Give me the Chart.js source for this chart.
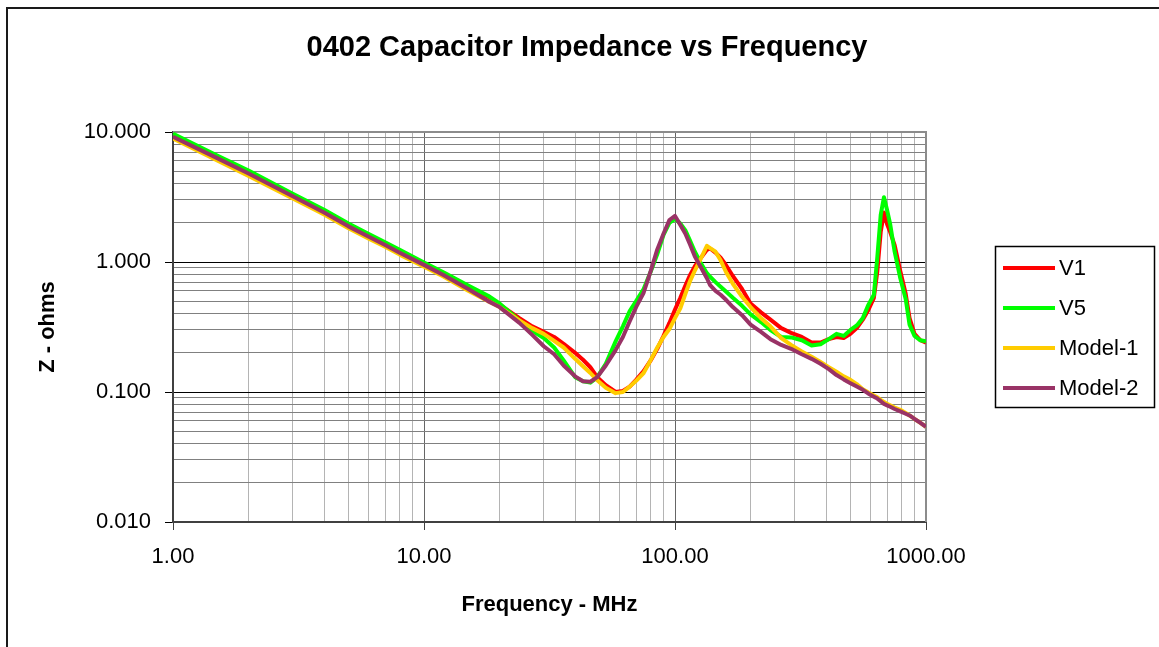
<!DOCTYPE html>
<html>
<head>
<meta charset="utf-8">
<title>0402 Capacitor Impedance vs Frequency</title>
<script src="https://cdn.jsdelivr.net/npm/chart.js@4.4.1/dist/chart.umd.min.js"></script>
<style>
  html, body { margin: 0; padding: 0; background: #fff; }
  #wrap { position: relative; width: 1159px; height: 647px; }
</style>
</head>
<body>
<div id="wrap"><canvas id="chart"></canvas></div>
<script>
// frequency points (MHz) shared by all four traces
const freqMHz = [
  1, 1.5, 2, 3, 4, 5, 6, 7, 8, 10,
  12, 15, 18, 20, 24, 27, 30, 33, 36, 40,
  43, 46, 49, 53, 58, 62, 66, 70, 75, 80,
  85, 90, 95, 100, 105, 110, 115, 120, 126, 134,
  138, 145, 152, 160, 170, 185, 200, 220, 240, 265,
  290, 320, 350, 380, 410, 440, 470, 500, 530, 560,
  590, 620, 640, 660, 680, 700, 720, 750, 790, 830,
  860, 900, 950, 1000
];

// |Z| in ohms
const v1Ohms = [
  9.2, 6.3, 4.8, 3.2, 2.4, 1.9, 1.58, 1.36, 1.19, 0.96,
  0.8, 0.63, 0.53, 0.47, 0.37, 0.32, 0.29, 0.265, 0.235, 0.2,
  0.177, 0.155, 0.13, 0.113, 0.1, 0.102, 0.11, 0.124, 0.145, 0.175,
  0.215, 0.27, 0.34, 0.43, 0.53, 0.66, 0.8, 0.93, 1.06, 1.24,
  1.27, 1.18, 1.08, 0.94, 0.78, 0.62, 0.48, 0.41, 0.36, 0.31,
  0.285, 0.265, 0.24, 0.24, 0.255, 0.265, 0.26, 0.28, 0.31, 0.36,
  0.43, 0.53, 0.85, 1.7, 2.4, 1.95, 1.7, 1.35, 0.85, 0.57,
  0.37, 0.28, 0.25, 0.24
];
const v5Ohms = [
  9.7, 6.6, 5.05, 3.35, 2.52, 1.98, 1.65, 1.42, 1.24, 0.99,
  0.83, 0.66, 0.55, 0.48, 0.355, 0.295, 0.26, 0.22, 0.175, 0.13,
  0.121, 0.118, 0.13, 0.165, 0.245, 0.32, 0.42, 0.5, 0.62, 0.84,
  1.15, 1.62, 2.0, 2.15, 1.98, 1.75, 1.45, 1.2, 1.0, 0.82,
  0.77, 0.7, 0.645, 0.59, 0.53, 0.46, 0.395, 0.345, 0.3, 0.265,
  0.263, 0.25, 0.228, 0.233, 0.255, 0.28, 0.27, 0.3, 0.325, 0.37,
  0.47, 0.56, 1.1, 2.3, 3.15, 2.5, 1.95, 1.2, 0.75, 0.52,
  0.33, 0.27, 0.25, 0.245
];
const model1Ohms = [
  8.9, 6.05, 4.6, 3.08, 2.32, 1.82, 1.52, 1.31, 1.14, 0.92,
  0.77, 0.6, 0.5, 0.45, 0.355, 0.31, 0.28, 0.247, 0.22, 0.18,
  0.158, 0.14, 0.123, 0.108, 0.098, 0.1, 0.11, 0.122, 0.14, 0.176,
  0.22, 0.265, 0.305, 0.37, 0.44, 0.57, 0.72, 0.86, 1.04, 1.33,
  1.28, 1.2, 1.03, 0.83, 0.68, 0.54, 0.45, 0.37, 0.32, 0.26,
  0.23, 0.205, 0.187, 0.17, 0.155, 0.143, 0.132, 0.124, 0.115, 0.105,
  0.099, 0.094, 0.091, 0.087, 0.084, 0.081, 0.079, 0.076, 0.073, 0.069,
  0.066, 0.062, 0.058, 0.054
];
const model2Ohms = [
  9.2, 6.3, 4.8, 3.2, 2.4, 1.88, 1.57, 1.35, 1.18, 0.95,
  0.79, 0.62, 0.5, 0.45, 0.34, 0.275, 0.225, 0.195, 0.16, 0.132,
  0.121, 0.12, 0.13, 0.16, 0.21, 0.265, 0.35, 0.45, 0.58, 0.85,
  1.25, 1.65, 2.1, 2.26, 1.93, 1.65, 1.35, 1.1, 0.93, 0.75,
  0.665, 0.6, 0.56, 0.51, 0.45, 0.39, 0.33, 0.29, 0.255, 0.23,
  0.215, 0.195, 0.18, 0.165, 0.15, 0.135, 0.125, 0.117, 0.11, 0.104,
  0.097, 0.092, 0.089, 0.085, 0.081, 0.079, 0.077, 0.074, 0.071, 0.068,
  0.066, 0.062, 0.058, 0.054
];

const seriesNames = ['V1', 'V5', 'Model-1', 'Model-2'];
const seriesColors = ['#ff0000', '#00ff00', '#ffcc00', '#993366'];

const xDecades = [1, 10, 100, 1000];
const xTickLabels = ['1.00', '10.00', '100.00', '1000.00'];
const yDecades = [0.01, 0.1, 1, 10];
const yTickLabels = ['0.010', '0.100', '1.000', '10.000'];

const FONT = "'Liberation Sans', Arial, Helvetica, sans-serif";

// 1..9 in every decade, like Excel's log gridlines
function logTicks(decades) {
  const out = [];
  decades.forEach((d, i) => {
    if (i === decades.length - 1) { out.push(d); return; }
    for (let m = 1; m < 10; m++) out.push(+(m * d).toPrecision(6));
  });
  return out.map(value => ({ value }));
}
const isDecade = v => Math.abs(Math.log10(v) - Math.round(Math.log10(v))) < 1e-6;

const allValues = [v1Ohms, v5Ohms, model1Ohms, model2Ohms];
// V1 at the bottom, Model-2 painted last
const drawOrder = [3, 2, 1, 0];

const datasets = seriesNames.map((name, s) => ({
  label: name,
  data: freqMHz.map((f, i) => ({ x: f, y: allValues[s][i] })),
  borderColor: seriesColors[s],
  backgroundColor: seriesColors[s],
  borderWidth: 4,
  borderJoinStyle: 'round',
  pointRadius: 0,
  tension: 0,
  fill: false,
  order: drawOrder[s],
}));

const framePlugin = {
  id: 'frame',
  beforeDraw(chart) {
    const { ctx, width, height } = chart;
    ctx.save();
    ctx.fillStyle = '#fff';
    ctx.fillRect(0, 0, width, height);
    ctx.strokeStyle = '#1a1a1a';
    ctx.lineWidth = 2;
    ctx.strokeRect(7, 8, width + 20, height + 20);
    ctx.restore();
  },
  beforeDatasetsDraw(chart) {
    const { ctx, chartArea: a } = chart;
    ctx.save();
    ctx.strokeStyle = '#8c8c8c';
    ctx.lineWidth = 2;
    ctx.beginPath();
    ctx.moveTo(a.left, a.top);
    ctx.lineTo(a.right, a.top);
    ctx.lineTo(a.right, a.bottom);
    ctx.stroke();
    ctx.restore();
  },
  afterDraw(chart) {
    // Excel style legend box
    const { ctx } = chart;
    ctx.save();
    ctx.fillStyle = '#fff';
    ctx.fillRect(995, 246, 160, 162);
    ctx.strokeStyle = '#000';
    ctx.lineWidth = 1.5;
    ctx.strokeRect(995.5, 246.5, 159, 161);
    ctx.font = '22px ' + FONT;
    ctx.textBaseline = 'middle';
    ctx.textAlign = 'left';
    chart.data.datasets.forEach((ds, i) => {
      const y = 268 + i * 40;
      ctx.strokeStyle = ds.borderColor;
      ctx.lineWidth = 4;
      ctx.beginPath();
      ctx.moveTo(1003, y);
      ctx.lineTo(1055, y);
      ctx.stroke();
      ctx.fillStyle = '#000';
      ctx.fillText(ds.label, 1059, y + 1);
    });
    ctx.restore();
  }
};

new Chart(document.getElementById('chart'), {
  type: 'line',
  data: { datasets },
  plugins: [framePlugin],
  options: {
    responsive: true,
    maintainAspectRatio: false,
    animation: false,
    layout: { padding: { left: 15, right: 0, top: 0, bottom: 0 } },
    plugins: {
      legend: { display: false },
      tooltip: { enabled: false },
      title: {
        display: true,
        text: '0402 Capacitor Impedance vs Frequency',
        color: '#000',
        font: { family: FONT, size: 29, weight: 'bold' },
        padding: { top: 30.6, bottom: 66.6 },
      },
    },
    scales: {
      x: {
        type: 'logarithmic',
        position: 'bottom',
        min: 1,
        max: 1000,
        afterBuildTicks: s => { s.ticks = logTicks(xDecades); },
        afterFit: s => { s.height = 125; },
        ticks: {
          autoSkip: false,
          maxRotation: 0,
          padding: 14,
          color: '#000',
          font: { family: FONT, size: 22 },
          callback: v => {
            const i = xDecades.indexOf(v);
            return i >= 0 ? xTickLabels[i] : '';
          },
        },
        grid: {
          color: c => (c.tick && isDecade(c.tick.value)) ? '#666666' : '#b4b4b4',
          tickColor: c => (c.tick && isDecade(c.tick.value)) ? '#404040' : 'rgba(0,0,0,0)',
          tickLength: 8,
          lineWidth: 1,
        },
        border: { color: '#404040', width: 2 },
        title: {
          display: true,
          text: 'Frequency - MHz',
          color: '#000',
          font: { family: FONT, size: 22, weight: 'bold' },
          padding: { top: 0, bottom: 29 },
        },
      },
      y: {
        type: 'logarithmic',
        position: 'left',
        min: 0.01,
        max: 10,
        afterBuildTicks: s => { s.ticks = logTicks(yDecades); },
        afterFit: s => { s.width = 158; },
        ticks: {
          autoSkip: false,
          padding: 14,
          color: '#000',
          font: { family: FONT, size: 22 },
          callback: v => {
            const i = yDecades.indexOf(v);
            return i >= 0 ? yTickLabels[i] : '';
          },
        },
        grid: {
          color: c => (c.tick && isDecade(c.tick.value)) ? '#000000' : '#808080',
          tickColor: c => (c.tick && isDecade(c.tick.value)) ? '#000000' : 'rgba(0,0,0,0)',
          tickLength: 8,
          lineWidth: 1,
        },
        border: { color: '#404040', width: 2 },
        title: {
          display: true,
          text: 'Z - ohms',
          color: '#000',
          font: { family: FONT, size: 22, weight: 'bold' },
          padding: { top: 20, bottom: 0 },
        },
      },
      // empty strip on the right that leaves room for the legend box
      legendSpace: {
        type: 'linear',
        position: 'right',
        display: true,
        grid: { display: false, drawTicks: false },
        ticks: { display: false },
        border: { display: false },
        afterFit: s => { s.width = 1159 - 926; },
      },
    },
  },
});
</script>
</body>
</html>
